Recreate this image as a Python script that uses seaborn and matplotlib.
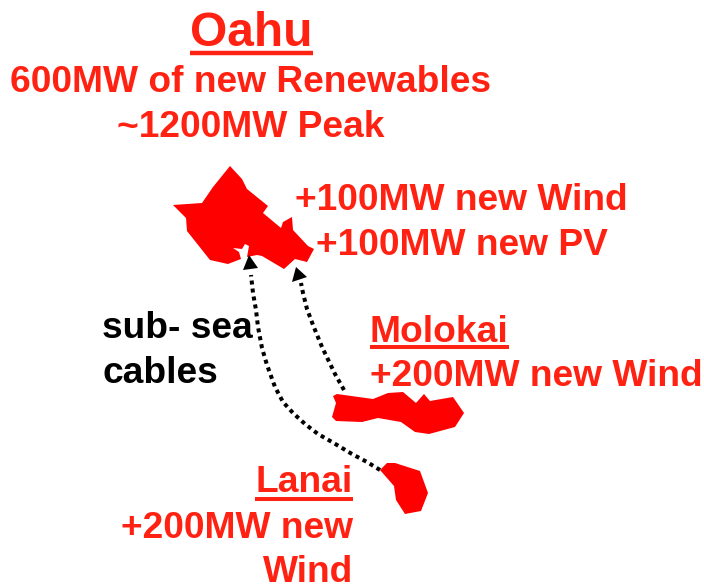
import matplotlib
matplotlib.use('Agg')
import matplotlib.pyplot as plt
import seaborn as sns
import pandas as pd

RED = '#ff2212'

# island outlines (pixels, y down)
oahu_x = [230, 242, 247, 268, 263, 281, 283, 292, 293, 308, 314, 307, 295, 284, 262, 257, 247, 249, 245, 242, 233, 239, 241, 228, 210, 187, 186, 173, 202, 213]
oahu_y = [166, 179, 189, 206, 213, 228, 222, 217, 230, 246, 249, 262, 259, 269, 256, 255, 257, 246, 244, 249, 248, 252, 259, 264, 260, 231, 218, 205, 203, 187]
molokai_x = [333, 337, 373, 388, 403, 416, 424, 430, 453, 464, 455, 429, 415, 401, 378, 362, 336, 332, 336]
molokai_y = [396, 394, 399, 393, 392, 403, 394, 401, 397, 413, 427, 434, 432, 422, 418, 422, 421, 417, 403]
lanai_x = [380, 387, 395, 420, 428, 421, 405, 396, 394]
lanai_y = [470, 463, 463, 471, 493, 511, 514, 500, 486]

# cables
lanai_cable_x = [380, 367, 352, 332, 318, 305, 293, 283, 275, 267, 262, 258, 256, 253, 251]
lanai_cable_y = [470, 462, 454, 442, 434, 424, 413, 402, 387, 365, 348, 327, 310, 293, 275]
molokai_cable_x = [344, 335, 322, 313, 307, 303, 301]
molokai_cable_y = [390, 374, 347, 325, 309, 293, 283]

# text, size, x, baseline, align, colour
labels = [
    ('Oahu', 34.5, 251, 45.5, 'center', RED),
    ('600MW of new Renewables', 26.7, 251, 92, 'center', RED),
    ('~1200MW Peak', 26.7, 251, 137, 'center', RED),
    ('+100MW new Wind', 26.7, 295, 210, 'left', RED),
    ('+100MW new PV', 26.7, 316, 255, 'left', RED),
    ('sub- sea', 26.7, 102.5, 338.5, 'left', 'black'),
    ('cables', 26.7, 102.5, 383, 'left', 'black'),
    ('Molokai', 26.7, 369.5, 341.5, 'left', RED),
    ('+200MW new Wind', 26.7, 370, 385.5, 'left', RED),
    ('Lanai', 26.7, 353, 492.5, 'right', RED),
    ('+200MW new', 26.7, 353, 537.5, 'right', RED),
    ('Wind', 26.7, 353, 581.5, 'right', RED),
]
# x0, x1, y, width
underlines = [(190, 313, 52.5, 3.2), (370, 509, 347, 2.9), (255, 353, 499, 2.9)]

sns.set_theme(style='white')
plt.rcParams['font.family'] = ['Liberation Sans', 'DejaVu Sans']

fig = plt.figure(figsize=(7.04, 5.84), dpi=100)
ax = fig.add_axes([0, 0, 1, 1])

ax.fill(oahu_x, oahu_y, color='#ff0000', lw=0)
ax.fill(molokai_x, molokai_y, color='#ff0000', lw=0)
ax.fill(lanai_x, lanai_y, color='#ff0000', lw=0)

for xs, ys, tip, base in [
    (lanai_cable_x, lanai_cable_y, (249, 255), [(243, 270), (258, 268)]),
    (molokai_cable_x, molokai_cable_y, (296, 267), [(292, 282), (307, 277)]),
]:
    df = pd.DataFrame({'x': xs, 'y': ys})
    sns.lineplot(data=df, x='x', y='y', sort=False, estimator=None, color='black',
                 lw=2.9, ax=ax, linestyle=(0, (1, 1)), dash_capstyle='butt')
    ax.fill([tip[0], base[0][0], base[1][0]], [tip[1], base[0][1], base[1][1]], color='black', lw=0)

for text, size, x, y, ha, col in labels:
    ax.text(x, y, text, fontsize=size, fontweight='bold', color=col, ha=ha, va='baseline')
for x0, x1, y, w in underlines:
    ax.plot([x0, x1], [y, y], color=RED, lw=w, solid_capstyle='butt')

ax.set_xlim(0, 704)
ax.set_ylim(584, 0)
ax.axis('off')
fig.savefig('out.png', dpi=100)
